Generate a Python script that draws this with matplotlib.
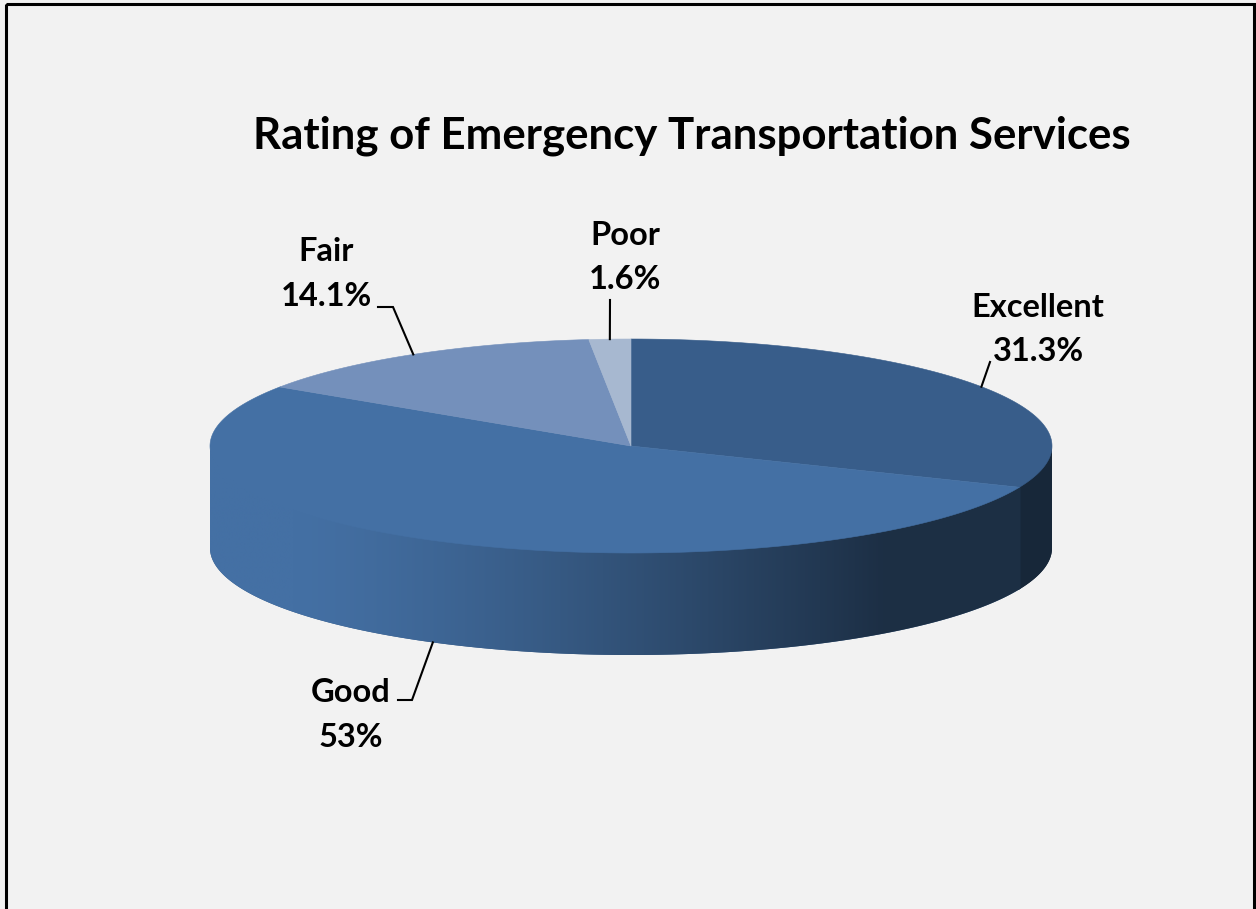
import numpy as np
import matplotlib.pyplot as plt
from matplotlib.patches import Polygon, Rectangle
from matplotlib.colors import to_rgb

# Survey results
categories = ['Excellent', 'Good', 'Fair', 'Poor']
shares = [31.3, 53.0, 14.1, 1.6]
share_labels = ['31.3%', '53%', '14.1%', '1.6%']
top_colors = ['#385D8A', '#4470A4', '#7490BB', '#A7B8D0']

plt.rcParams['font.family'] = ['Lato', 'DejaVu Sans']

W, H = 1256, 909
fig = plt.figure(figsize=(W / 100, H / 100), dpi=100, facecolor='#F2F2F2')
ax = fig.add_axes([0, 0, 1, 1])
ax.set_xlim(0, W)
ax.set_ylim(H, 0)
ax.axis('off')
ax.set_facecolor('#F2F2F2')

# ellipse geometry in pixel units (y grows downward)
cx, cy = 631, 446
a, b = 421, 107
depth = 102


def rim(theta_deg, drop=0.0):
    t = np.radians(theta_deg)
    return cx + a * np.cos(t), cy - b * np.sin(t) + drop


def shade(x):
    # sides get darker towards the right
    u = np.clip((x - (cx - a)) / (2 * a), 0, 1)
    s = np.clip((u - 0.1) / 0.7, 0, 1)
    return 1 - 0.58 * s ** 1.3


# slices run clockwise from 12 o'clock
total = sum(shares)
bounds = [90.0]
for v in shares:
    bounds.append(bounds[-1] - 360.0 * v / total)

# side walls (front half only), filled with a horizontal gradient
xgrid = np.linspace(cx - a, cx + a, 600)
for i, col in enumerate(top_colors):
    start, end = bounds[i], bounds[i + 1]
    lo, hi = max(end, -180.0), min(start, 0.0)
    if lo >= hi:
        continue
    # small overlap so neighbouring walls don't leave a seam
    lo, hi = max(lo - 0.4, -180.0), min(hi + 0.4, 0.0)
    th = np.linspace(lo, hi, 300)
    xs, ys = rim(th)
    outline = (list(zip(xs, ys - 1.5)) +
               list(zip(xs[::-1], ys[::-1] + depth)))
    base = np.array(to_rgb(col))
    mid_x = rim(0.5 * (lo + hi))[0]
    wall = Polygon(outline, closed=True, facecolor=base * shade(mid_x),
                   edgecolor='none', zorder=0.9)
    ax.add_patch(wall)
    grad = np.clip(base[None, :] * shade(xgrid)[:, None], 0, 1)[None, :, :]
    im = ax.imshow(grad, extent=(cx - a, cx + a, cy + b + depth, cy - b),
                   aspect='auto', interpolation='bilinear', zorder=1)
    im.set_clip_path(wall)

# top faces
for i, col in enumerate(top_colors):
    start, end = bounds[i], bounds[i + 1]
    th = np.linspace(start, end, 300)
    xs, ys = rim(th)
    pts = [(cx, cy)] + list(zip(xs, ys))
    ax.add_patch(Polygon(pts, closed=True, facecolor=col, edgecolor=col,
                         linewidth=0.4, zorder=2))
ax.set_xlim(0, W)
ax.set_ylim(H, 0)

# labels with leader lines
label_pos = {
    'Excellent': (1038, 317, 361),
    'Good': (351, 702, 747),
    'Fair': (326, 261, 306),
    'Poor': (625, 245, 289),
}
leader_pts = {
    'Excellent': [(990, 362)],
    'Good': [(412, 700), (398, 700)],
    'Fair': [(393, 307), (378, 307)],
    'Poor': [(610, 300)],
}
mids = [0.5 * (bounds[i] + bounds[i + 1]) for i in range(len(shares))]
for name, pct, mid in zip(categories, share_labels, mids):
    drop = depth if np.sin(np.radians(mid)) < 0 else 0
    sx, sy = rim(mid, drop)
    path = [(sx, sy)] + leader_pts[name]
    ax.plot([p[0] for p in path], [p[1] for p in path], color='black', lw=1.5,
            solid_joinstyle='miter', zorder=3)
    lx, y1, y2 = label_pos[name]
    ax.text(lx, y1, name, ha='center', va='baseline', fontsize=23.5, fontweight='bold')
    ax.text(lx, y2, pct, ha='center', va='baseline', fontsize=23.5, fontweight='bold')

ax.text(692, 149, 'Rating of Emergency Transportation Services', ha='center',
        va='baseline', fontsize=31.5, fontweight='bold')

# chart frame
ax.add_patch(Rectangle((5.5, 4), 1248.5, 1000, fill=False, edgecolor='black',
                       linewidth=2.2, zorder=4))

fig.savefig('out.png', dpi=100, facecolor='#F2F2F2')
